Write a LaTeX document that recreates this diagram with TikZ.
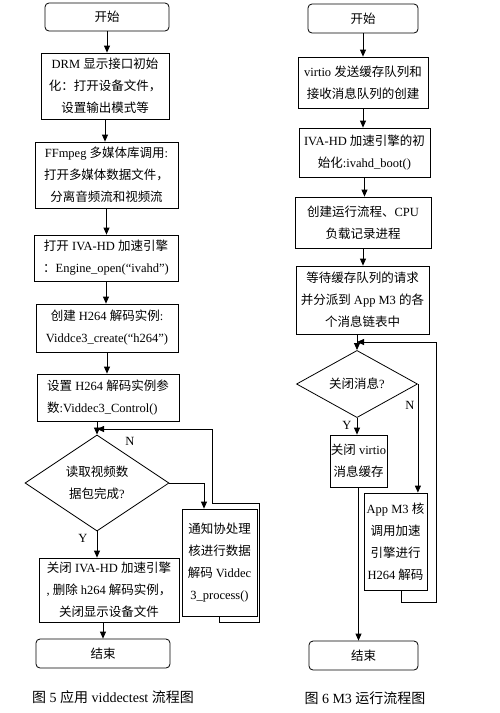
\documentclass[tikz,border=0pt]{standalone}
\usepackage{fontspec}
\setmainfont{Liberation Serif}
\newfontfamily\zh{Noto Sans CJK SC}
\usetikzlibrary{shapes.geometric,arrows.meta}
\newcommand\flowfont{\fontsize{12.5}{22}\selectfont}
\newcommand\capfont{\fontsize{14}{16}\selectfont}

\begin{document}
\begin{tikzpicture}[x=1pt,y=-1pt,
  box/.style={draw,line width=0.8pt,inner sep=1pt,align=center,font=\flowfont},
  term/.style={box,rounded corners=4pt},
  dec/.style={box,diamond,inner sep=0pt},
  arr/.style={-{Triangle[length=7pt,width=6pt]},line width=0.8pt},
  lbl/.style={font=\flowfont}]
  \useasboundingbox (0,0) rectangle (500,713);
  % left chart: viddectest
  \node (start1) at (107,17) [term,minimum width=124pt,minimum height=28pt] {\zh 开始};
  \node (drm) at (105,86) [box,minimum width=128pt,minimum height=66pt] {DRM {\zh 显示接口初始}\\{\zh 化：打开设备文件，}\\{\zh 设置输出模式等}};
  \node (ffm) at (106.5,175) [box,minimum width=143pt,minimum height=66pt] {FFmpeg {\zh 多媒体库调用}:\\{\zh 打开多媒体数据文件，}\\{\zh 分离音频流和视频流}};
  \node (iva) at (106,258) [box,minimum width=144pt,minimum height=46pt] {{\zh 打开} IVA-HD {\zh 加速引擎}\\{\zh ：}Engine\_open(“ivahd”)};
  \node (crt) at (107,328) [box,minimum width=142pt,minimum height=48pt] {{\zh 创建} H264 {\zh 解码实例}:\\Viddce3\_create(“h264”)};
  \node (set) at (108,397.5) [box,align=left,minimum width=142pt,minimum height=47pt] {{\zh 设置} H264 {\zh 解码实例参}\\{\zh 数}:Viddec3\_Control()};
  \node (dec1) at (97,483) [dec,minimum width=144pt,minimum height=84pt] {{\zh 读取视频数}\\{\zh 据包完成}?};
  \node (proc) at (219.5,562.5) [box,minimum width=75pt,minimum height=107pt] {{\zh 通知协处理}\\{\zh 核进行数据}\\{\zh 解码} Viddec\\3\_process()};
  \node (close1) at (109,590) [box,minimum width=140pt,minimum height=64pt] {{\zh 关闭} IVA-HD {\zh 加速引擎}\\, {\zh 删除} h264 {\zh 解码实例，}\\{\zh 关闭显示设备文件}};
  \node (end1) at (103,653.5) [term,minimum width=134pt,minimum height=29pt] {\zh 结束};
  \node (cap1) at (113,697) [font=\capfont] {{\zh 图} 5 {\zh 应用} viddectest {\zh 流程图}};
  \node (n1) at (130,441) [lbl] {N};
  \node (y1) at (83,538) [lbl] {Y};
  \coordinate (jn1) at (97,429);
  \draw[arr] (start1.south) -- (start1.south |- drm.north);
  \draw[arr] (drm.south) -- (drm.south |- ffm.north);
  \draw[arr] (ffm.south) -- (ffm.south |- iva.north);
  \draw[arr] (iva.south) -- (iva.south |- crt.north);
  \draw[arr] (crt.south) -- (crt.south |- set.north);
  \draw[arr] (set.south -| dec1.north) -- (dec1.north);
  \draw[arr] (dec1.east) -| ([xshift=-15.5pt]proc.north);
  \draw[arr] (dec1.south) -- (dec1.south |- close1.north);
  \draw[arr] (proc.south) -- ++(0,6) -| (259,503) -| (212,429) -- (jn1);
  \draw[arr] (end1.north |- close1.south) -- (end1.north);
  % right chart: M3
  \node (start2) at (363,18.5) [term,minimum width=110pt,minimum height=29pt] {\zh 开始};
  \node (vq) at (363,82.5) [box,minimum width=130pt,minimum height=51pt] {virtio {\zh 发送缓存队列和}\\{\zh 接收消息队列的创建}};
  \node (ivb) at (364.5,152.5) [box,minimum width=131pt,minimum height=49pt] {IVA-HD {\zh 加速引擎的初}\\{\zh 始化}:ivahd\_boot()};
  \node (cpu) at (363,222.5) [box,minimum width=136pt,minimum height=51pt] {{\zh 创建运行流程、}CPU\\{\zh 负载记录进程}};
  \node (wait) at (362.5,300) [box,minimum width=133pt,minimum height=68pt] {{\zh 等待缓存队列的请求}\\{\zh 并分派到} App M3 {\zh 的各}\\{\zh 个消息链表中}};
  \node (dec2) at (357,384) [dec,minimum width=121pt,minimum height=58pt] {{\zh 关闭消息}?};
  \node (clv) at (358.5,461) [box,inner sep=0pt,minimum width=57pt,minimum height=52pt] {{\zh 关闭} virtio\\{\zh 消息缓存}};
  \node (app) at (395.5,541.5) [box,inner sep=0pt,minimum width=63pt,minimum height=97pt] {App M3 {\zh 核}\\{\zh 调用加速}\\{\zh 引擎进行}\\H264 {\zh 解码}};
  \node (end2) at (363.5,655.5) [term,minimum width=109pt,minimum height=29pt] {\zh 结束};
  \node (cap2) at (365,698) [font=\capfont] {{\zh 图} 6 M3 {\zh 运行流程图}};
  \node (n2) at (410,405) [lbl] {N};
  \node (y2) at (347,425) [lbl] {Y};
  \coordinate (jn2) at (357,342);
  \draw[arr] (start2.south) -- (start2.south |- vq.north);
  \draw[arr] (vq.south) -- (vq.south |- ivb.north);
  \draw[arr] (ivb.south) -- (ivb.south |- cpu.north);
  \draw[arr] (cpu.south) -- (cpu.south |- wait.north);
  \draw[arr] (wait.south -| dec2.north) -- (dec2.north);
  \draw[arr] (dec2.south) -- (dec2.south |- clv.north);
  \draw[arr] (dec2.east) -- (dec2.east |- app.north);
  \draw[arr] ([xshift=5.5pt]app.south) -- ++(0,12) -| (436,342) -- (jn2);
  \draw[arr] (clv.south) -- (clv.south |- end2.north);
\end{tikzpicture}
\end{document}
